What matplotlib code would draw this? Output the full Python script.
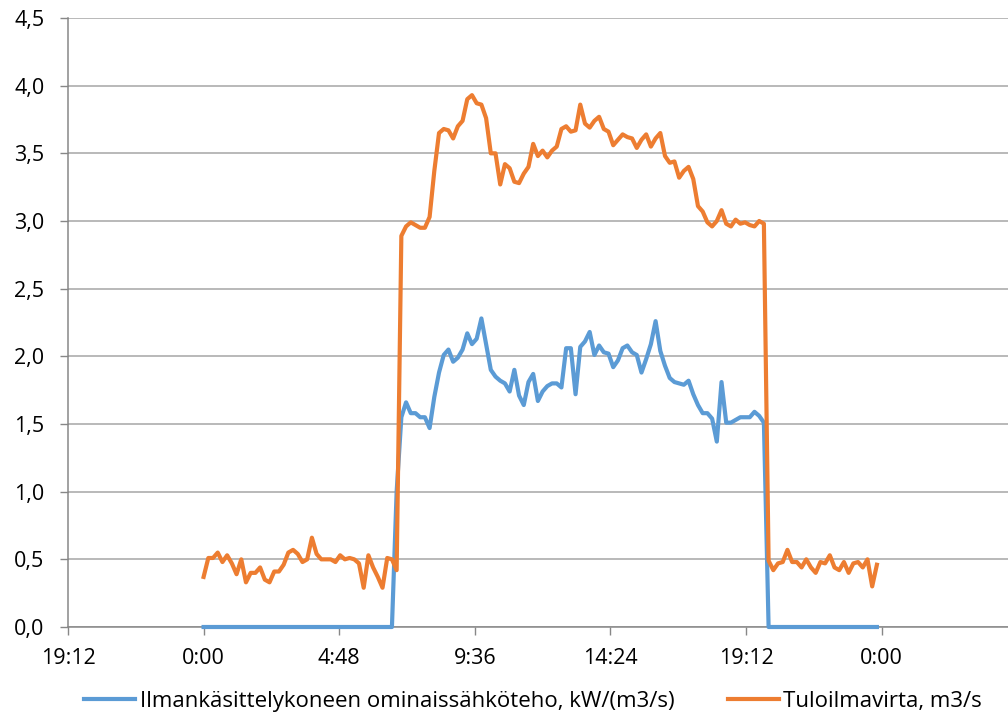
import numpy as np
import matplotlib.pyplot as plt

# 10 minute samples over one day, x in hours
hours = np.arange(144) / 6.0

# Ilmankäsittelykoneen ominaissähköteho, kW/(m3/s)
sfp = ([0.0] * 41 + [1.0] +
       [1.55, 1.66, 1.58, 1.58, 1.55, 1.55, 1.47, 1.70, 1.88, 2.01,
        2.05, 1.96, 1.99, 2.05, 2.17, 2.09, 2.13, 2.28, 2.09, 1.90,
        1.85, 1.82, 1.80, 1.74, 1.90, 1.71, 1.64, 1.81, 1.87, 1.67,
        1.74, 1.78, 1.80, 1.80, 1.77, 2.06, 2.06, 1.72] +
       [2.07, 2.11, 2.18, 2.01, 2.08, 2.03, 2.02, 1.92, 1.97, 2.06,
        2.08, 2.03, 2.01, 1.88, 1.98, 2.09, 2.26, 2.04, 1.93, 1.84,
        1.81, 1.80, 1.79, 1.82, 1.72, 1.64, 1.58, 1.58, 1.54, 1.37,
        1.81, 1.51, 1.51, 1.53, 1.55, 1.55, 1.55, 1.59, 1.56, 1.51] +
       [0.0] * 24)

# Tuloilmavirta, m3/s
flow = ([0.37, 0.51, 0.51, 0.55, 0.48, 0.53, 0.47, 0.39, 0.50, 0.33,
         0.40, 0.40, 0.44, 0.35, 0.33, 0.41, 0.41, 0.46, 0.55, 0.57,
         0.54, 0.48, 0.50, 0.66, 0.54, 0.50, 0.50, 0.50, 0.48, 0.53,
         0.50, 0.51, 0.50, 0.47, 0.29, 0.53, 0.44, 0.37, 0.29, 0.51,
         0.50, 0.42] +
        [2.89, 2.96, 2.99, 2.97, 2.95, 2.95, 3.03, 3.37, 3.65, 3.68,
         3.67, 3.61, 3.70, 3.74, 3.90, 3.93, 3.87, 3.86, 3.76, 3.50,
         3.50, 3.27, 3.42, 3.39, 3.29, 3.28, 3.35, 3.40, 3.57, 3.48,
         3.52, 3.47, 3.52, 3.55, 3.68, 3.70, 3.66, 3.67, 3.86] +
        [3.72, 3.69, 3.74, 3.77, 3.68, 3.66, 3.56, 3.60, 3.64, 3.62,
         3.61, 3.54, 3.60, 3.64, 3.55, 3.61, 3.65, 3.48, 3.43, 3.44,
         3.32, 3.37, 3.40, 3.31, 3.11, 3.07, 2.99, 2.96, 3.00, 3.08,
         2.98, 2.96, 3.01, 2.98, 2.99, 2.97, 2.96, 3.00, 2.98] +
        [0.49, 0.42, 0.47, 0.48, 0.57, 0.48, 0.48, 0.44, 0.50, 0.44,
         0.40, 0.48, 0.47, 0.53, 0.44, 0.42, 0.48, 0.40, 0.47, 0.48,
         0.44, 0.50, 0.30, 0.46])

xticks = [-4.8, 0, 4.8, 9.6, 14.4, 19.2, 24]
xlabels = ["19:12", "0:00", "4:48", "9:36", "14:24", "19:12", "0:00"]
yticks = [0, 0.5, 1, 1.5, 2, 2.5, 3, 3.5, 4, 4.5]
ylabels = ["0,0", "0,5", "1,0", "1,5", "2,0", "2,5", "3,0", "3,5", "4,0", "4,5"]

plt.rcParams['font.family'] = ['Open Sans', 'DejaVu Sans']

fig = plt.figure(figsize=(10.08, 7.13), dpi=100)
ax = fig.add_axes([68 / 1008, 86 / 713, 940 / 1008, 609 / 713])

ax.plot(hours, sfp, color="#5B9BD5", lw=3.0, solid_joinstyle="round",
        label="Ilmankäsittelykoneen ominaissähköteho, kW/(m3/s)", zorder=4,
        clip_on=False)
ax.plot(hours, flow, color="#ED7D31", lw=3.0, solid_joinstyle="round",
        label="Tuloilmavirta, m3/s", zorder=5, clip_on=False)

ax.set_xlim(-4.8, -4.8 + 940 / 28.25)
ax.set_ylim(0, 4.5)
ax.set_xticks(xticks)
ax.set_xticklabels(xlabels)
ax.set_yticks(yticks)
ax.set_yticklabels(ylabels)
ax.tick_params(axis="both", labelsize=15.5, color="#878787", length=6,
               width=1, labelcolor="black")
ax.tick_params(axis="y", pad=11)
ax.tick_params(axis="x", pad=9)
ax.yaxis.grid(True, color="#A6A6A6", lw=1.1)
ax.set_axisbelow(True)
for s in ["top", "right"]:
    ax.spines[s].set_visible(False)
for s in ["left", "bottom"]:
    ax.spines[s].set_color("#878787")
    ax.spines[s].set_linewidth(1.1)
    ax.spines[s].set_zorder(2)

fig.legend(loc="center", bbox_to_anchor=(533 / 1008, 1 - 701 / 713), ncol=2,
           frameon=False, fontsize=16, handlelength=2.3, handletextpad=0.2,
           columnspacing=2.4, borderpad=0)

fig.savefig("out.png", dpi=100)
